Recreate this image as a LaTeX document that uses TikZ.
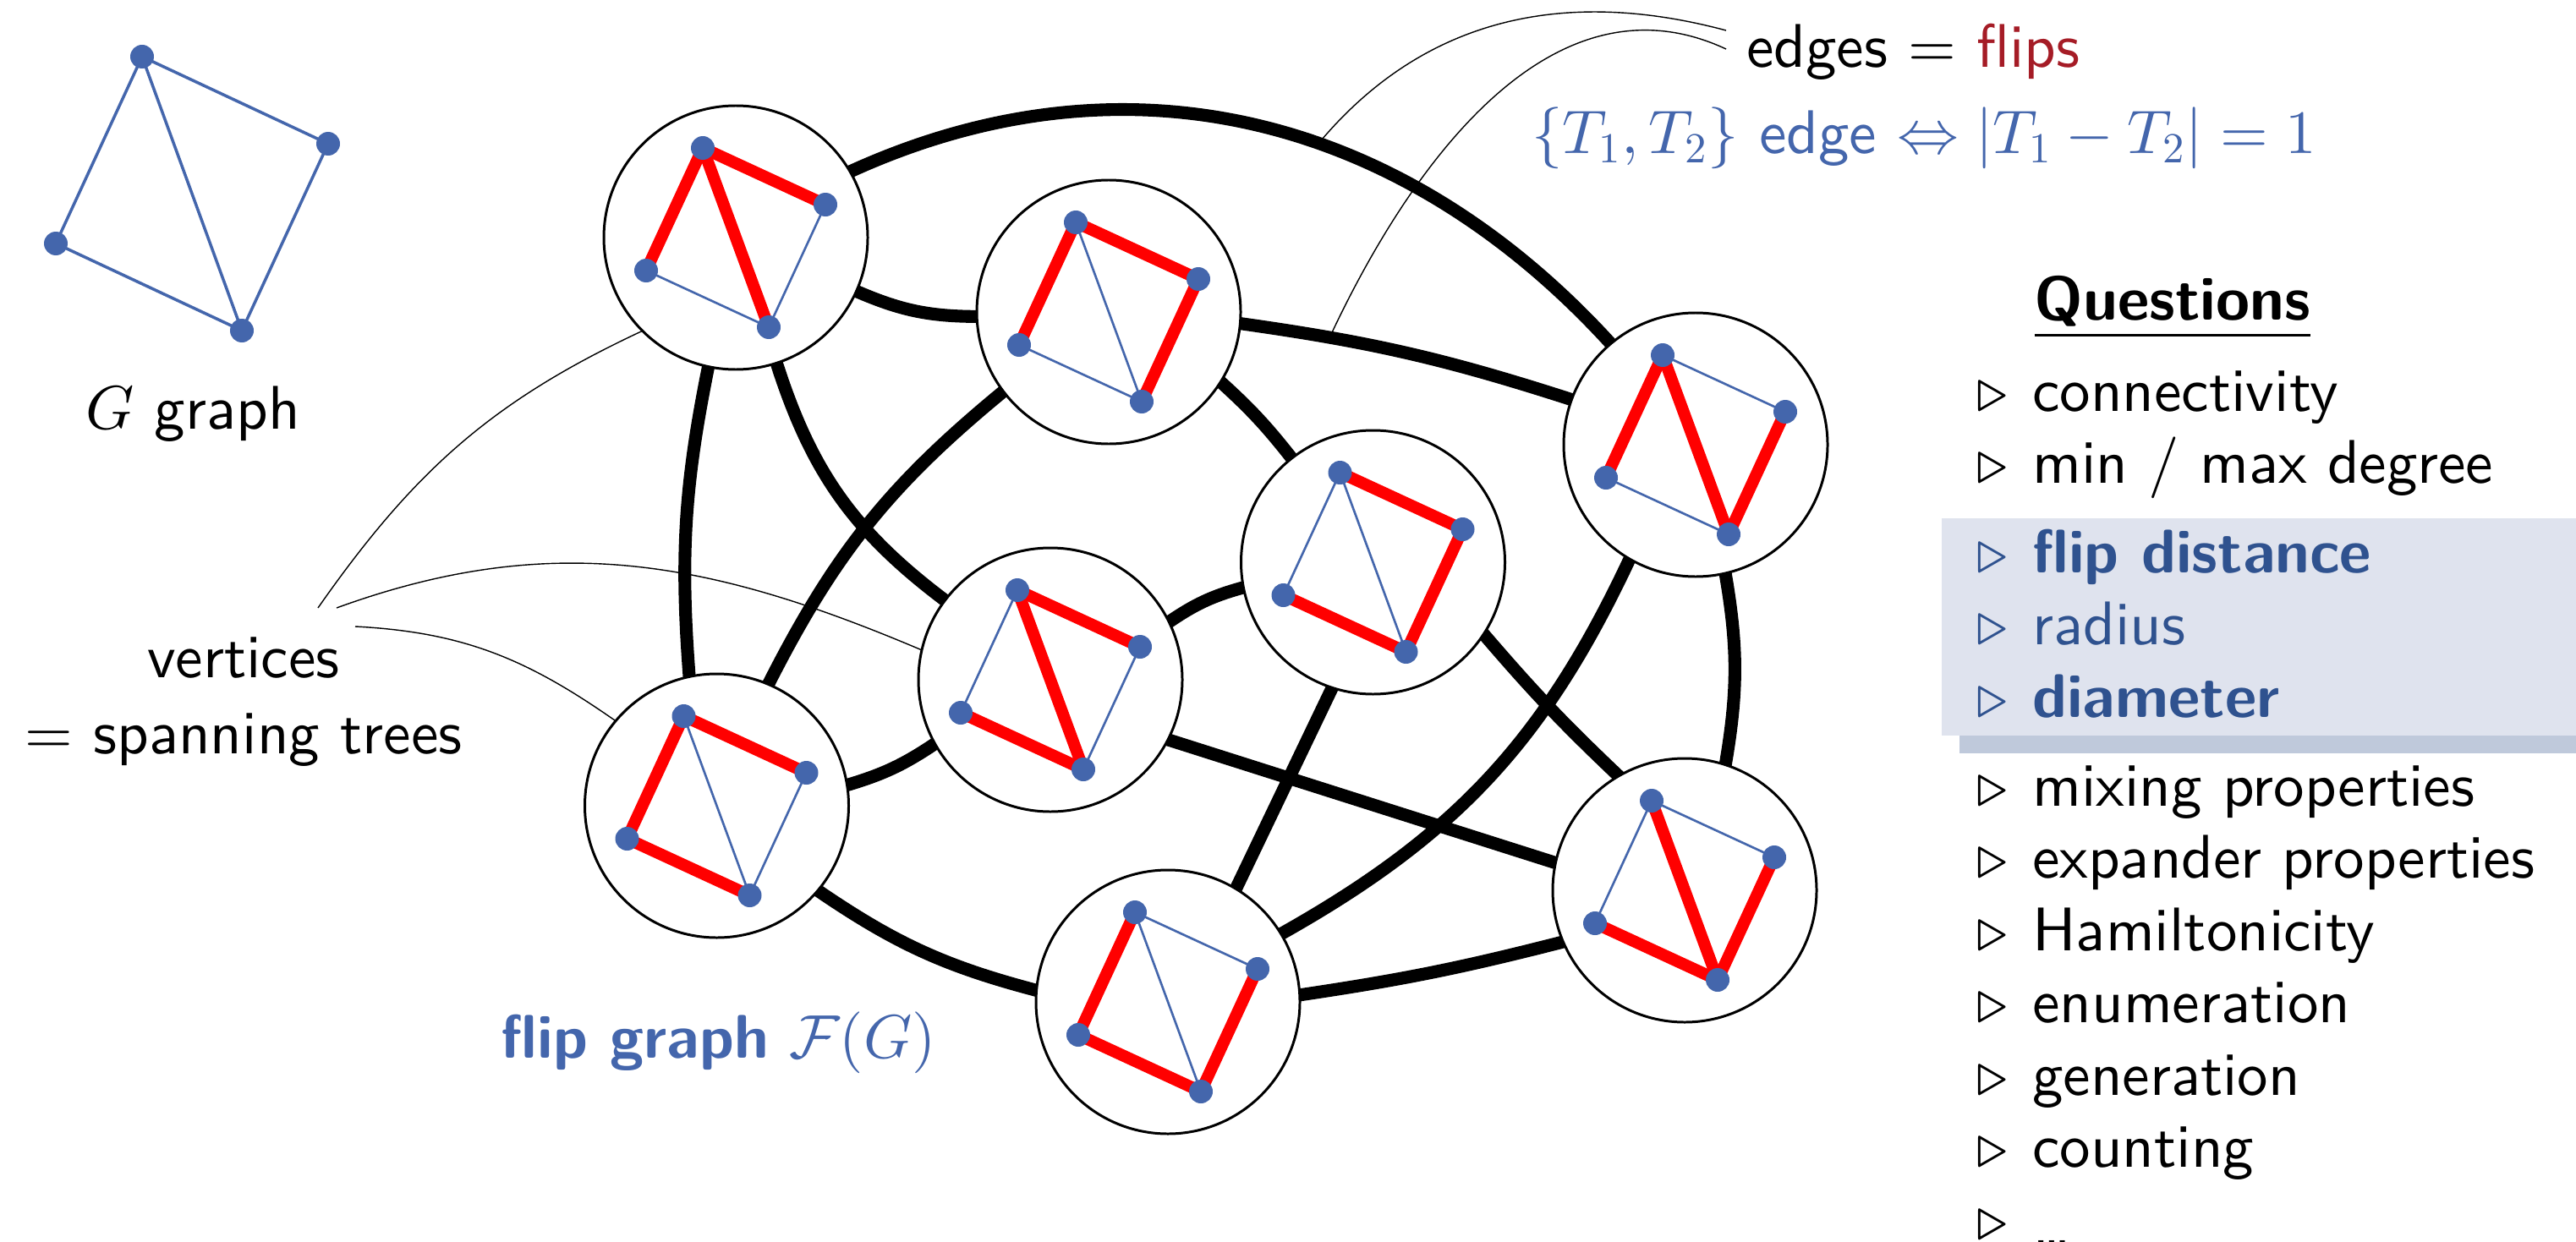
\documentclass[tikz,border=0pt]{standalone}
\usepackage{amsmath}
\usepackage{amssymb}
\usepackage{fontspec}
\usepackage{xcolor}
\usepackage{tikz}
\usetikzlibrary{positioning,calc,backgrounds}
% 10pt design size of the sans, scaled up
\setsansfont{lmsans10-regular.otf}[BoldFont=lmsans10-bold.otf]
\renewcommand{\familydefault}{\sfdefault}
\DeclareFontShape{OT1}{cmr}{m}{n}{<->cmr10}{}
\DeclareFontShape{OML}{cmm}{m}{it}{<->cmmi10}{}
\DeclareFontShape{OMS}{cmsy}{m}{n}{<->cmsy10}{}
\definecolor{gBlue}   {RGB}{68,102,172}
\definecolor{qBlue}   {RGB}{47,82,143}
\definecolor{flipRed} {RGB}{165,28,38}
\definecolor{boxFill} {RGB}{223,227,238}
\definecolor{boxShade}{RGB}{191,201,219}
\newcommand{\qtri}{\makebox[0.9em][l]{$\triangleright$}}
\tikzset{
  dot/.style={circle,fill=gBlue,minimum size=2.8mm,inner sep=0pt,outer sep=0pt},
  tnode/.style={circle,draw,line width=0.85pt,fill=white,minimum size=31.2mm,
                inner sep=0pt,outer sep=0pt},                 % one spanning tree
  flipedge/.style={line width=4.3pt,shorten <=-2pt,shorten >=-2pt}, % edge of F(G)
  tedge/.style={gBlue,line width=0.75pt},                     % edge of G, not in tree
  redge/.style={red,line width=4pt},                          % tree edge
  gedge/.style={gBlue,line width=1pt},
  note/.style={line width=0.4pt},
  lbl/.style={font=\fontsize{20.74}{25}\selectfont,inner sep=0pt},
  qitem/.style={lbl,anchor=base west},
}

\begin{document}
\begin{tikzpicture}[x=1cm,y=1cm]
  \useasboundingbox (0,0) rectangle (30.46,14.68);

  % ---- the graph G ----
  \coordinate (gt) at (1.68,14.01);
  \coordinate (gr) at (3.88,12.98);
  \coordinate (gl) at (0.66,11.80);
  \coordinate (gb) at (2.86,10.77);
  \draw[gedge] (gl)--(gt)--(gr)--(gb)--(gl) (gt)--(gb);
  \foreach \p in {t,r,l,b} \node[dot] (dg\p) at (g\p) {};
  \node[lbl,anchor=base] (glbl) at (2.28,9.61) {$G$ graph};

  % ---- spanning trees (circle + copy of G, tree edges in red) ----
  \newcommand{\sptree}[3]{% #1 name #2 centre #3 red edges
    \node[tnode] (#1) at (#2) {};
    \coordinate (#1t) at ($(#1)+(-0.39,1.06)$);
    \coordinate (#1r) at ($(#1)+(1.06,0.39)$);
    \coordinate (#1l) at ($(#1)+(-1.06,-0.39)$);
    \coordinate (#1b) at ($(#1)+(0.39,-1.06)$);
    \draw[tedge] (#1l)--(#1t)--(#1r)--(#1b)--(#1l) (#1t)--(#1b);
    \foreach \a/\b in {#3} \draw[redge] (#1\a)--(#1\b);
    \foreach \p in {t,r,l,b} \node[dot] (d#1\p) at (#1\p) {};}
  \sptree{c1}{8.70,11.87}{t/l,t/b,t/r}
  \sptree{c2}{13.11,10.99}{t/l,t/r,r/b}
  \sptree{c3}{20.05,9.42}{t/l,t/b,r/b}
  \sptree{c4}{16.235,8.03}{t/r,r/b,l/b}
  \sptree{c5}{12.42,6.64}{t/r,t/b,l/b}
  \sptree{c6}{8.475,5.15}{t/r,t/l,l/b}
  \sptree{c7}{13.81,2.83}{t/l,l/b,r/b}
  \sptree{c8}{19.92,4.15}{t/b,r/b,l/b}

  % ---- flips ----
  \begin{scope}[on background layer]
    \draw[flipedge] (c1.30) to[out=25,in=132] coordinate[pos=0.58] (e13) (c3.130);
    \draw[flipedge] (c1.-24) to[bend right=12] (c2.182);
    \draw[flipedge] (c2.-5) to[bend left=5] coordinate[pos=0.25] (e23) (c3.160);
    \draw[flipedge] (c1.-102) to[bend right=8] (c6.102);
    \draw[flipedge] (c1.-72) to[bend right=18] (c5.143);
    \draw[flipedge] (c2.-143) to[bend right=12] (c6.67);
    \draw[flipedge] (c2.-32) to[bend left=5] (c4.128);
    \draw[flipedge] (c3.-120) to[bend left=18] (c7.31);
    \draw[flipedge] (c3.-77) to[bend left=10] (c8.72);
    \draw[flipedge] (c4.-169) to[bend right=10] (c5.26);
    \draw[flipedge] (c4.-33) to[bend right=3] (c8.120);
    \draw[flipedge] (c4.-108) -- (c7.59);
    \draw[flipedge] (c5.-27) -- (c8.168);
    \draw[flipedge] (c6.9) to[bend right=9] (c5.-151);
    \draw[flipedge] (c6.-40) to[bend right=10] (c7.175);
    \draw[flipedge] (c7.3) to[bend right=3] (c8.-157);
  \end{scope}

  % ---- labels of the flip graph ----
  \node[lbl,anchor=base] (vlbl) at (2.88,6.663) {vertices};
  \node[lbl,anchor=base] (slbl) at (2.88,5.763) {$=$ spanning trees};
  \coordinate (va) at (3.76,7.49);
  \coordinate (vb) at (3.98,7.49);
  \coordinate (vc) at (4.20,7.27);
  \draw[note] (va) to[out=55,in=-155] (c1.-135);
  \draw[note] (vb) to[out=20,in=157] (c5.167);
  \draw[note] (vc) to[out=-3,in=145] (c6.140);

  \node[lbl,anchor=base west,text=gBlue] (fglbl) at (5.92,2.163)
    {\textbf{flip graph} $\mathcal{F}(G)$};

  \node[lbl,anchor=base] (elbl) at (22.625,13.88) {edges $=$ \textcolor{flipRed}{flips}};
  \node[lbl,anchor=base,text=gBlue] (tlbl) at (22.75,12.86)
    {$\{T_1,T_2\}$ edge $\Leftrightarrow |T_1-T_2|=1$};
  \coordinate (ea) at (20.41,14.32);
  \coordinate (eb) at (20.41,14.10);
  \draw[note] (ea) to[out=165,in=50] (e13);
  \draw[note] (eb) to[out=155,in=65] (e23);

  % ---- questions ----
  \fill[boxShade] (23.17,5.77) rectangle (30.46,8.34);
  \fill[boxFill] (22.96,5.98) rectangle (30.46,8.55);
  \node[lbl,anchor=base west] (qhead) at (24.05,10.895) {\bfseries\underline{Questions}};
  \node[qitem] (q1) at (23.37,9.82) {\qtri connectivity};
  \node[qitem] (q2) at (23.37,8.965) {\qtri min / max degree};
  \node[qitem,text=qBlue] (q3) at (23.37,7.91) {\qtri\textbf{flip distance}};
  \node[qitem,text=qBlue] (q4) at (23.37,7.055) {\qtri radius};
  \node[qitem,text=qBlue] (q5) at (23.37,6.20) {\qtri\textbf{diameter}};
  \node[qitem] (q6) at (23.37,5.15) {\qtri mixing properties};
  \node[qitem] (q7) at (23.37,4.295) {\qtri expander properties};
  \node[qitem] (q8) at (23.37,3.44) {\qtri Hamiltonicity};
  \node[qitem] (q9) at (23.37,2.585) {\qtri enumeration};
  \node[qitem] (q10) at (23.37,1.73) {\qtri generation};
  \node[qitem] (q11) at (23.37,0.875) {\qtri counting};
  \node[qitem] (q12) at (23.37,0.02) {\qtri\raisebox{-0.07cm}{\dots}};
\end{tikzpicture}
\end{document}
